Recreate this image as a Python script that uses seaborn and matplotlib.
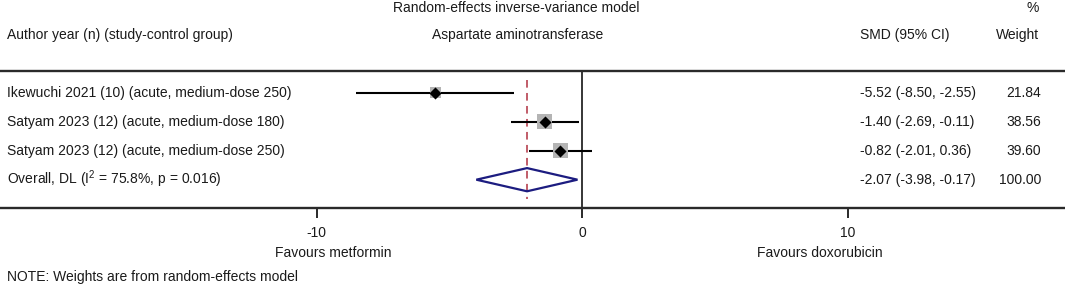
import numpy as np
import pandas as pd
import seaborn as sns
import matplotlib.pyplot as plt
from matplotlib.patches import Polygon

studies = [
    "Ikewuchi 2021 (10) (acute, medium-dose 250)",
    "Satyam 2023 (12) (acute, medium-dose 180)",
    "Satyam 2023 (12) (acute, medium-dose 250)",
]
smd = [-5.52, -1.40, -0.82]
ci_low = [-8.50, -2.69, -2.01]
ci_high = [-2.55, -0.11, 0.36]
weights = [21.84, 38.56, 39.60]

overall_label = r"Overall, DL (I$^{2}$ = 75.8%, p = 0.016)"
overall_smd = -2.07
overall_low = -3.98
overall_high = -0.17
overall_weight = 100.00

xticks = [-10, 0, 10]

sns.set_theme(style="white")
plt.rcParams["font.family"] = ["Liberation Sans", "DejaVu Sans"]
plt.rcParams["mathtext.fontset"] = "custom"
plt.rcParams["mathtext.rm"] = "Liberation Sans"
plt.rcParams["mathtext.it"] = "Liberation Sans:italic"

df = pd.DataFrame({"study": studies, "smd": smd, "low": ci_low,
                   "high": ci_high, "weight": weights})
df["row"] = np.arange(len(df))
overall_row = len(df)

fig = plt.figure(figsize=(10.65, 2.86), dpi=100)
ax = fig.add_axes([0, (286 - 207.5) / 286, 1, (207.5 - 71) / 286])

px = 26.55  # pixels per SMD unit
ax.set_xlim(-582 / px, (1065 - 582) / px)
ax.set_ylim(3.959, -0.748)

txt = "#1a1a1a"
fs = 10

# zero line and overall dashed line
ax.axvline(0, color="black", lw=1.1, zorder=1)
ax.vlines(overall_smd, -0.45, 3.65, color="#b03040", lw=1.1,
          linestyles=(0, (5, 3.5)), zorder=1)

# CIs
ax.hlines(df["row"], df["low"], df["high"], color="black", lw=1.5, zorder=2)

# weight squares
side_px = 2.38 * np.sqrt(df["weight"])
sns.scatterplot(data=df, x="smd", y="row", marker="s", color="#b4b4b4",
                s=(side_px * 72 / 100) ** 2, linewidth=0, ax=ax, zorder=3,
                legend=False)
sns.scatterplot(data=df, x="smd", y="row", marker="D", color="black",
                s=38, linewidth=0, ax=ax, zorder=4, legend=False)

# overall diamond
h = 0.40
diamond = Polygon([(overall_low, overall_row), (overall_smd, overall_row - h),
                   (overall_high, overall_row), (overall_smd, overall_row + h)],
                  closed=True, fill=False, edgecolor="#1c1c80", lw=1.6, zorder=5)
ax.add_patch(diamond)

# axis styling
for s in ["left", "right"]:
    ax.spines[s].set_visible(False)
for s in ["top", "bottom"]:
    ax.spines[s].set_color("#2a2a2a")
    ax.spines[s].set_linewidth(1.7)
ax.set_yticks([])
ax.set_xticks(xticks)
ax.set_xticklabels([str(t) for t in xticks])
ax.tick_params(axis="x", bottom=True, direction="out", length=7.5, width=1.4,
               color="#2a2a2a", pad=6, labelsize=fs, labelcolor=txt)
ax.set_xlabel("")
ax.set_ylabel("")

yt = ax.get_yaxis_transform()
xl = 7 / 1065
xsmd = 860 / 1065
xw = 1041 / 1065

# headers
ax.text(516 / 1065, -2.91, "Random-effects inverse-variance model", transform=yt,
        ha="center", va="center", fontsize=fs, color=txt)
ax.text(1039 / 1065, -2.91, "%", transform=yt, ha="right", va="center",
        fontsize=fs, color=txt)
ax.text(xl, -1.99, "Author year (n) (study-control group)", transform=yt,
        ha="left", va="center", fontsize=fs, color=txt)
ax.text(518 / 1065, -1.99, "Aspartate aminotransferase", transform=yt,
        ha="center", va="center", fontsize=fs, color=txt)
ax.text(xsmd, -1.99, "SMD (95% CI)", transform=yt, ha="left", va="center",
        fontsize=fs, color=txt)
ax.text(1039 / 1065, -1.99, "Weight", transform=yt, ha="right", va="center",
        fontsize=fs, color=txt)

# rows
for _, r in df.iterrows():
    ax.text(xl, r["row"], r["study"], transform=yt, ha="left", va="center",
            fontsize=fs, color=txt)
    ax.text(xsmd, r["row"], f"{r['smd']:.2f} ({r['low']:.2f}, {r['high']:.2f})",
            transform=yt, ha="left", va="center", fontsize=fs, color=txt)
    ax.text(xw, r["row"], f"{r['weight']:.2f}", transform=yt, ha="right",
            va="center", fontsize=fs, color=txt)

ax.text(xl, overall_row, overall_label, transform=yt, ha="left", va="center",
        fontsize=fs, color=txt)
ax.text(xsmd, overall_row,
        f"{overall_smd:.2f} ({overall_low:.2f}, {overall_high:.2f})",
        transform=yt, ha="left", va="center", fontsize=fs, color=txt)
ax.text(xw, overall_row, f"{overall_weight:.2f}", transform=yt, ha="right",
        va="center", fontsize=fs, color=txt)

# footer
ax.text(-9.38, 5.53, "Favours metformin", ha="center", va="center",
        fontsize=fs, color=txt)
ax.text(8.96, 5.53, "Favours doxorubicin", ha="center", va="center",
        fontsize=fs, color=txt)
ax.text(xl, 6.36, "NOTE: Weights are from random-effects model", transform=yt,
        ha="left", va="center", fontsize=fs, color=txt)

fig.savefig("out.png", dpi=100)
